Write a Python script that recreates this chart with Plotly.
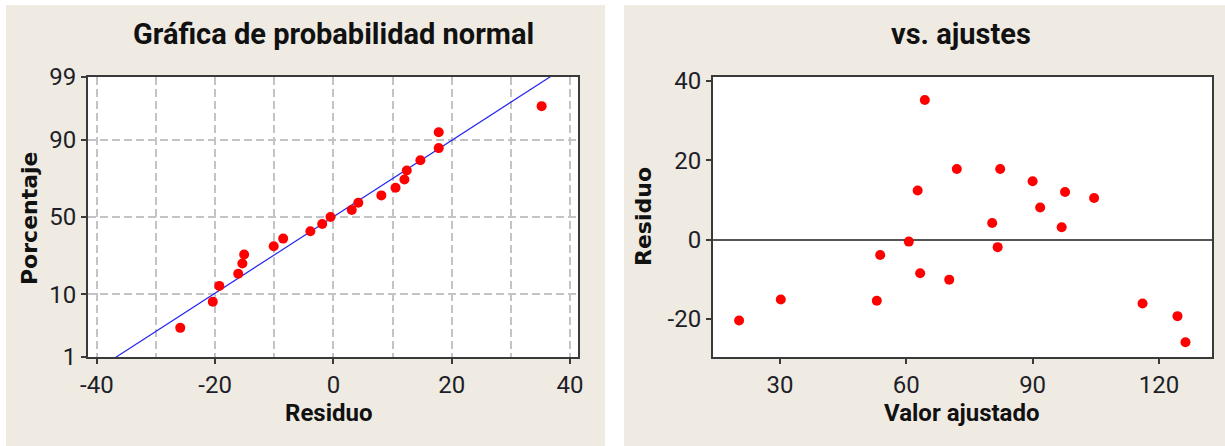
import numpy as np
import plotly.graph_objects as go
from statistics import NormalDist

# ---------------- data ----------------
fitted = [20.3, 30.2, 53.0, 53.8, 60.6, 62.7, 63.3, 64.4, 70.2, 72.0, 80.4,
          81.7, 82.3, 90.0, 91.8, 96.9, 97.7, 104.6, 116.1, 124.4, 126.3]
residuals = [-20.4, -15.1, -15.4, -3.9, -0.5, 12.4, -8.5, 35.2, -10.1, 17.8, 4.2,
             -1.9, 17.8, 14.7, 8.1, 3.1, 12.0, 10.5, -16.1, -19.3, -25.9]
prob_ticks = [1, 10, 50, 90, 99]
prob_labels = ["1", "10", "50", "90", "99"]
x_ticks_left = [-40, -20, 0, 20, 40]
x_ticks_right = [30, 60, 90, 120]
y_ticks_right = [-20, 0, 20, 40]

title_left = "Gráfica de probabilidad normal"
title_right = "vs. ajustes"
xlab_left = "Residuo"
ylab_left = "Porcentaje"
xlab_right = "Valor ajustado"
ylab_right = "Residuo"

# ---------------- derived: normal probability plot ----------------
nd = NormalDist()
res_sorted = np.sort(np.array(residuals))
n = len(res_sorted)
ranks = np.arange(1, n + 1)
pct = (ranks - 0.3) / (n + 0.4)               # median ranks (Minitab)
z_pts = [nd.inv_cdf(p) for p in pct]
mu = float(np.mean(residuals))
sd = float(np.std(residuals, ddof=1))
z_line = [nd.inv_cdf(0.005), nd.inv_cdf(0.995)]
x_line = [mu + sd * z for z in z_line]
z_ticks = [nd.inv_cdf(p / 100) for p in prob_ticks]

# ---------------- styling ----------------
W, H = 1225, 446
BEIGE = "#EFEBE2"
SANS = "Roboto, Liberation Sans, sans-serif"
WIDE = "DejaVu Sans, Verdana, sans-serif"
GRID = "#C4C4C4"
AXC = "#3a3a3a"
TICKFONT = dict(family=SANS, size=24, color="#1e1e28")

def px(x):
    return x / W

def py(y):
    return 1 - y / H

fig = go.Figure()

fig.add_trace(go.Scatter(
    x=x_line, y=z_line, mode="lines",
    line=dict(color="#2626f0", width=1.2),
    xaxis="x", yaxis="y", showlegend=False, hoverinfo="skip"))
fig.add_trace(go.Scatter(
    x=res_sorted, y=z_pts, mode="markers",
    marker=dict(color="#FF0000", size=10),
    xaxis="x", yaxis="y", showlegend=False))
fig.add_trace(go.Scatter(
    x=fitted, y=residuals, mode="markers",
    marker=dict(color="#FF0000", size=10),
    xaxis="x2", yaxis="y2", showlegend=False))

ydom = [py(357), py(77)]

fig.update_layout(
    template="none",
    width=W, height=H, autosize=False,
    margin=dict(l=0, r=0, t=0, b=0, pad=0, autoexpand=False),
    paper_bgcolor="white",
    plot_bgcolor="rgba(0,0,0,0)",
    showlegend=False,
    xaxis=dict(
        domain=[px(88), px(578)], anchor="y", automargin=False,
        range=[-41.5, 41.35], tickmode="array", tickvals=x_ticks_left,
        ticktext=[str(v) for v in x_ticks_left],
        ticks="outside", ticklen=5, tickwidth=1.5, tickcolor=AXC,
        tickfont=TICKFONT,
        showgrid=True, gridcolor=GRID, gridwidth=1.5, griddash="8px,4px",
        minor=dict(tickvals=[-30, -10, 10, 30], showgrid=True, gridcolor=GRID,
                   gridwidth=1.5, griddash="8px,4px", ticks=""),
        zeroline=False, showline=True, linecolor=AXC, linewidth=2, mirror=True,
    ),
    yaxis=dict(
        domain=ydom, anchor="x", automargin=False,
        range=[z_ticks[0], z_ticks[-1]], tickmode="array", tickvals=z_ticks,
        ticktext=prob_labels,
        ticks="outside", ticklen=5, tickwidth=1.5, tickcolor=AXC,
        tickfont=TICKFONT,
        showgrid=True, gridcolor=GRID, gridwidth=1.5, griddash="8px,4px",
        zeroline=False, showline=True, linecolor=AXC, linewidth=2, mirror=True,
    ),
    xaxis2=dict(
        domain=[px(713), px(1212)], anchor="y2", automargin=False,
        range=[14.1, 132.6], tickmode="array", tickvals=x_ticks_right,
        ticktext=[str(v) for v in x_ticks_right],
        ticks="outside", ticklen=5, tickwidth=1.5, tickcolor=AXC,
        tickfont=TICKFONT, showgrid=False, zeroline=False,
        showline=True, linecolor=AXC, linewidth=2, mirror=True,
    ),
    yaxis2=dict(
        domain=ydom, anchor="x2", automargin=False,
        range=[-29.6, 41.0], tickmode="array", tickvals=y_ticks_right,
        ticktext=[str(v) for v in y_ticks_right],
        ticks="outside", ticklen=5, tickwidth=1.5, tickcolor=AXC,
        tickfont=TICKFONT, showgrid=False,
        zeroline=True, zerolinecolor="#555555", zerolinewidth=2,
        showline=True, linecolor=AXC, linewidth=2, mirror=True,
    ),
)

shapes = [
    dict(type="rect", xref="paper", yref="paper", x0=px(6), x1=px(605),
         y0=0, y1=py(5), fillcolor=BEIGE, line=dict(width=0), layer="below"),
    dict(type="rect", xref="paper", yref="paper", x0=px(624), x1=1,
         y0=0, y1=py(5), fillcolor=BEIGE, line=dict(width=0), layer="below"),
    dict(type="rect", xref="paper", yref="paper", x0=px(88), x1=px(578),
         y0=ydom[0], y1=ydom[1], fillcolor="white", line=dict(width=0), layer="below"),
    dict(type="rect", xref="paper", yref="paper", x0=px(713), x1=px(1212),
         y0=ydom[0], y1=ydom[1], fillcolor="white", line=dict(width=0), layer="below"),
]
fig.update_layout(shapes=shapes)

def ann(text, x, y, font, angle=0):
    return dict(text=text, x=px(x), y=py(y), xref="paper", yref="paper",
                showarrow=False, xanchor="center", yanchor="middle",
                textangle=angle, font=font)

TITLEF = dict(family=SANS, size=29, color="#111111")
XLABF = dict(family=SANS, size=24, color="#111111")
YLABF = dict(family=WIDE, size=22, color="#111111")

fig.update_layout(annotations=[
    ann("<b>" + title_left + "</b>", 333, 34, TITLEF),
    ann("<b>" + title_right + "</b>", 961, 34, TITLEF),
    ann("<b>" + xlab_left + "</b>", 329, 413, XLABF),
    ann("<b>" + xlab_right + "</b>", 962, 413, XLABF),
    ann("<b>" + ylab_left + "</b>", 29, 218, YLABF, -90),
    ann("<b>" + ylab_right + "</b>", 644, 217, YLABF, -90),
])

POST = (
    "var gd=document.getElementById('{plot_id}');"
    "var de=document.documentElement, b=document.body;"
    "de.style.margin='0';de.style.padding='0';de.style.overflow='hidden';"
    "b.style.margin='0';b.style.padding='0';b.style.overflow='hidden';"
    "gd.style.position='fixed';gd.style.left='0px';gd.style.top='0px';"
)

fig.write_html(
    "out.html",
    config={"displayModeBar": False},
    post_script=POST,
)
